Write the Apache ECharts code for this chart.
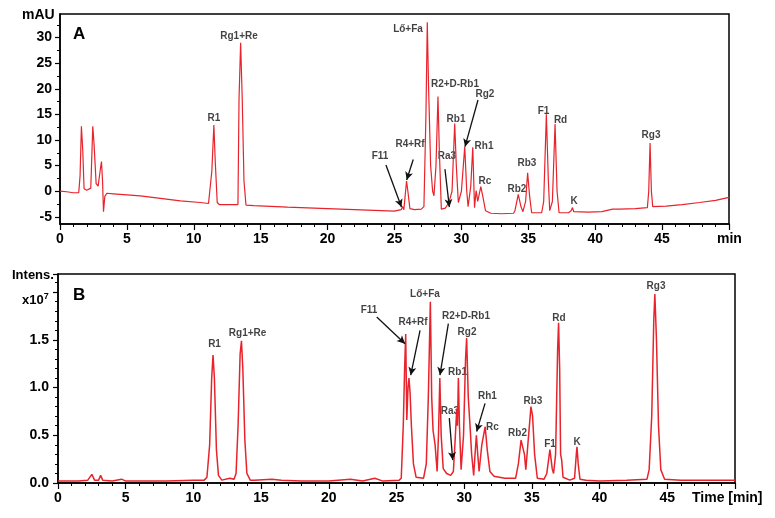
<!DOCTYPE html>
<html>
<head>
<meta charset="utf-8">
<script src="https://cdn.jsdelivr.net/npm/echarts@6/dist/echarts.min.js"></script>
<style>
  html, body { margin: 0; padding: 0; background: #fff; }
  #chart { width: 775px; height: 518px; }
</style>
</head>
<body>
<div id="chart"></div>
<script>
// UV trace (panel A): [time min, mAU]
const uvTrace = [
  [0, 0], [0.5, -0.1], [1.0, -0.3], [1.4, -0.3], [1.5, 3], [1.6, 12.7], [1.7, 8], [1.8, 0.5], [2.0, 0.2],
  [2.3, 0.6], [2.45, 12.7], [2.55, 9], [2.7, 1.5], [2.85, 1.0], [3.0, 4], [3.1, 5.8], [3.18, 2], [3.25, -4.0],
  [3.35, -1.0], [3.5, -0.4], [4.0, -0.5], [6.0, -0.9], [7.5, -1.4], [9.0, -1.9], [10.5, -2.2], [11.1, -2.4],
  [11.2, -2.4], [11.35, 4], [11.5, 12.9], [11.6, 6], [11.75, -2.2], [11.9, -2.6],
  [13.3, -2.6], [13.38, 18], [13.5, 29], [13.62, 18], [13.75, 2], [13.9, -2.7],
  [14.5, -2.8], [17, -3.1], [20, -3.4], [23, -3.7], [25, -3.9],
  [25.5, -3.6], [25.6, -3.0], [25.7, -3.6], [25.8, -3.5], [25.9, 2.0], [26.0, 0], [26.15, -3.4], [26.5, -3.6], [27.0, -3.5],
  [27.2, -3], [27.35, 15], [27.45, 33], [27.55, 20], [27.7, 5], [27.85, 0], [27.95, -0.9],
  [28.1, 5], [28.25, 18.5], [28.35, 8], [28.5, -3.5],
  [28.8, -3.3], [29.0, -2.5], [29.1, -1.9],
  [29.3, 0], [29.5, 13.2], [29.62, 5], [29.77, -2.2],
  [30.0, 0], [30.25, 8.7], [30.4, 0], [30.5, -3],
  [30.7, 1], [30.85, 8.6], [30.98, -3.2], [31.1, 0.1], [31.22, -2.0], [31.45, 0.9], [31.6, -1.0], [31.8, -3.8], [32.2, -4.3],
  [33.0, -4.4], [33.9, -4.3],
  [34.0, -3.8], [34.25, -0.6], [34.45, -3.0], [34.6, -4.0],
  [34.8, -2], [34.95, 3.6], [35.1, -1], [35.25, -4.2], [36.0, -4.2],
  [36.15, -2], [36.35, 15.0], [36.5, 2], [36.6, -3.8],
  [36.8, -2], [37.0, 13.1], [37.15, 0], [37.3, -4.2], [38.0, -4.2],
  [38.2, -3.8], [38.3, -3.2], [38.4, -4.0],
  [39.5, -4.1], [40.5, -4.0], [41.3, -3.5], [41.8, -3.5], [43.0, -3.4], [43.9, -3.2],
  [44.0, 0], [44.1, 9.4], [44.2, 0], [44.3, -3.0],
  [45.3, -2.9], [46.5, -2.6], [47.8, -2.2], [49.0, -1.8], [50.0, -1.2]
];

// MS trace (panel B): [time min, intensity x1e7]
const msTrace = [
  [0, 0.02], [1.5, 0.02], [2.2, 0.03], [2.5, 0.09], [2.7, 0.03], [3.0, 0.03], [3.15, 0.08], [3.3, 0.03],
  [4.0, 0.02], [4.7, 0.04], [5.0, 0.02], [8.0, 0.02], [10.0, 0.03], [10.8, 0.03],
  [11.0, 0.06], [11.2, 0.4], [11.35, 1.1], [11.45, 1.34], [11.55, 1.1], [11.7, 0.35], [11.85, 0.08], [12.1, 0.03],
  [12.7, 0.05], [13.0, 0.04],
  [13.15, 0.1], [13.3, 0.6], [13.45, 1.35], [13.55, 1.49], [13.65, 1.2], [13.8, 0.45], [13.95, 0.1], [14.2, 0.03],
  [14.5, 0.03], [15.8, 0.04], [16.5, 0.03], [18, 0.02], [20, 0.02], [21.6, 0.04], [22.5, 0.02], [23.4, 0.05], [24, 0.02], [25.2, 0.03],
  [25.35, 0.05], [25.5, 0.6], [25.6, 1.2], [25.68, 1.56], [25.76, 0.66], [25.85, 1.0], [25.92, 1.1], [26.0, 0.95],
  [26.1, 0.6], [26.25, 0.2], [26.45, 0.06], [27.0, 0.05],
  [27.2, 0.2], [27.35, 0.9], [27.5, 1.90], [27.6, 0.9], [27.7, 0.55], [27.85, 0.4], [28.0, 0.12],
  [28.1, 0.5], [28.2, 1.10], [28.3, 0.5], [28.45, 0.15],
  [28.7, 0.1], [29.0, 0.08], [29.2, 0.12],
  [29.35, 0.5], [29.45, 0.78], [29.5, 0.6], [29.57, 1.10], [29.65, 0.6], [29.77, 0.14],
  [29.95, 0.5], [30.1, 1.3], [30.18, 1.52], [30.3, 0.9], [30.45, 0.55], [30.55, 0.3], [30.7, 0.08],
  [30.8, 0.3], [30.9, 0.5], [31.0, 0.3], [31.1, 0.12],
  [31.3, 0.4], [31.55, 0.59], [31.7, 0.35], [31.9, 0.12], [32.2, 0.07], [33.0, 0.05],
  [33.8, 0.05], [34.0, 0.2], [34.2, 0.45], [34.3, 0.47], [34.45, 0.3], [34.55, 0.14],
  [34.7, 0.4], [34.93, 0.80], [35.05, 0.7], [35.2, 0.3], [35.4, 0.05], [35.9, 0.04],
  [36.1, 0.1], [36.33, 0.35], [36.5, 0.15], [36.6, 0.1],
  [36.75, 0.3], [36.9, 1.4], [36.97, 1.68], [37.05, 1.2], [37.12, 0.3], [37.2, 0.24], [37.3, 0.06], [37.8, 0.03],
  [38.15, 0.05], [38.28, 0.3], [38.33, 0.38], [38.42, 0.2], [38.55, 0.04],
  [39, 0.03], [40, 0.02], [42, 0.03], [43.5, 0.04],
  [43.66, 0.14], [43.85, 0.7], [44.0, 1.7], [44.08, 1.98], [44.2, 1.5], [44.35, 0.6], [44.52, 0.14], [44.8, 0.04],
  [46, 0.03], [48, 0.03], [50, 0.03]
];

// peak labels: [text, time, value]
const uvPeakLabels = [
  ['R1', 11.51, 14.3], ['Rg1+Re', 13.38, 30.2], ['Lő+Fa', 26.01, 31.6], ['R2+D-Rb1', 29.52, 20.9],
  ['Rg2', 31.76, 19.0], ['Rb1', 29.6, 14.1], ['R4+Rf', 26.16, 9.2], ['F11', 23.92, 6.9], ['Ra3', 28.92, 6.9],
  ['Rh1', 31.69, 8.8], ['Rc', 31.76, 2.0], ['Rb2', 34.15, 0.4], ['Rb3', 34.9, 5.5], ['F1', 36.14, 15.7],
  ['Rd', 37.41, 13.9], ['K', 38.42, -1.9], ['Rg3', 44.17, 11.0]
];
const msPeakLabels = [
  ['R1', 11.56, 1.457], ['Rg1+Re', 14.0, 1.567], ['F11', 22.97, 1.81], ['R4+Rf', 26.22, 1.68],
  ['Lő+Fa', 27.1, 1.98], ['R2+D-Rb1', 30.13, 1.75], ['Rg2', 30.21, 1.58], ['Rb1', 29.51, 1.16],
  ['Ra3', 28.95, 0.755], ['Rh1', 31.72, 0.91], ['Rc', 32.09, 0.58], ['Rb2', 33.94, 0.52],
  ['Rb3', 35.08, 0.86], ['F1', 36.34, 0.41], ['Rd', 37.0, 1.73], ['K', 38.33, 0.43], ['Rg3', 44.17, 2.06]
];

// arrows: [fromTime, fromValue, toTime, toValue]
const uvArrows = [
  [24.36, 5.1, 25.52, -3.1], [26.4, 6.2, 25.91, 2.2], [28.77, 4.3, 29.1, -3.1], [31.24, 17.8, 30.27, 8.7]
];
const msArrows = [
  [23.54, 1.74, 25.63, 1.46], [26.74, 1.6, 26.05, 1.13], [28.83, 1.67, 28.21, 1.13],
  [28.9, 0.68, 29.15, 0.24], [31.54, 0.835, 30.92, 0.54]
];

const uvMajorTicks = [-5, 0, 5, 10, 15, 20, 25, 30];
const uvMinorTicks = [-2.5, 2.5, 7.5, 12.5, 17.5, 22.5, 27.5, 32.5];

const FONT = '"Liberation Sans", Arial, sans-serif';
const RED = '#e8232b';

function timeAxis(gridIndex) {
  return {
    type: 'value', gridIndex, min: 0, max: 50, interval: 5, position: 'bottom',
    axisLine: { onZero: false, lineStyle: { color: '#000', width: 1.5 } },
    axisTick: { length: 6, lineStyle: { color: '#000', width: 1.2 } },
    minorTick: { show: true, splitNumber: 5, length: 3, lineStyle: { color: '#000', width: 1 } },
    axisLabel: {
      color: '#000', fontFamily: FONT, fontWeight: 'bold', fontSize: 14, margin: 8,
      formatter: (v) => (v >= 50 ? '' : String(v))
    },
    splitLine: { show: false }
  };
}

function labelSeries(labels, arrows, idx) {
  return {
    type: 'scatter', xAxisIndex: idx, yAxisIndex: idx === 0 ? 0 : 2,
    symbolSize: 1, itemStyle: { color: 'rgba(0,0,0,0)' }, silent: true,
    data: labels.map(([name, t, v]) => ({ name, value: [t, v] })),
    label: {
      show: true, position: 'inside', formatter: '{b}',
      color: '#111', fontFamily: FONT, fontWeight: 'bold', fontSize: 10
    },
    markLine: {
      silent: true, symbol: ['none', 'arrow'], symbolSize: [6, 8],
      lineStyle: { color: '#111', width: 1.3, type: 'solid' },
      label: { show: false },
      data: arrows.map(([t1, v1, t2, v2]) => [{ coord: [t1, v1] }, { coord: [t2, v2] }])
    }
  };
}

const chart = echarts.init(document.getElementById('chart'));
chart.setOption({
  animation: false,
  backgroundColor: '#fff',
  grid: [
    { left: 60, top: 14, right: 46, height: 210, show: true, borderColor: '#000', borderWidth: 1.5 },
    { left: 58, top: 274, right: 40, height: 209, show: true, borderColor: '#000', borderWidth: 1.5 }
  ],
  xAxis: [timeAxis(0), timeAxis(1)],
  yAxis: [
    {
      type: 'value', gridIndex: 0, min: -6.4, max: 34.6, position: 'left',
      axisLine: { show: true, onZero: false, lineStyle: { color: '#000', width: 1.5 } },
      axisTick: { show: true, length: 5, customValues: uvMajorTicks, lineStyle: { color: '#000', width: 1.2 } },
      axisLabel: {
        customValues: uvMajorTicks, color: '#000', fontFamily: FONT, fontWeight: 'bold', fontSize: 14, margin: 8
      },
      splitLine: { show: false }
    },
    {
      type: 'value', gridIndex: 0, min: -6.4, max: 34.6, position: 'left', offset: 0,
      axisLine: { show: false, onZero: false },
      axisTick: { show: true, length: 3, customValues: uvMinorTicks, lineStyle: { color: '#000', width: 1 } },
      axisLabel: { show: false },
      splitLine: { show: false }
    },
    {
      type: 'value', gridIndex: 1, min: 0, max: 2.19, interval: 0.5, position: 'left',
      axisLine: { show: true, onZero: false, lineStyle: { color: '#000', width: 1.5 } },
      axisTick: { show: true, length: 5, lineStyle: { color: '#000', width: 1.2 } },
      minorTick: { show: true, splitNumber: 5, length: 3, lineStyle: { color: '#000', width: 1 } },
      axisLabel: {
        color: '#000', fontFamily: FONT, fontWeight: 'bold', fontSize: 14, margin: 9,
        formatter: (v) => (v <= 1.5 ? v.toFixed(1) : '')
      },
      splitLine: { show: false }
    }
  ],
  graphic: [
    { type: 'text', left: 22, top: 8, style: { text: 'mAU', font: 'bold 14px ' + FONT, fill: '#000' } },
    { type: 'text', left: 73, top: 26, style: { text: 'A', font: 'bold 17px ' + FONT, fill: '#000' } },
    { type: 'text', left: 717, top: 232, style: { text: 'min', font: 'bold 14px ' + FONT, fill: '#000' } },
    { type: 'text', left: 12, top: 269, style: { text: 'Intens.', font: 'bold 13px ' + FONT, fill: '#000' } },
    {
      type: 'text', left: 22, top: 292,
      style: {
        text: '{a|x10}{s|7}',
        rich: {
          a: { font: 'bold 13px ' + FONT, fill: '#000', verticalAlign: 'bottom' },
          s: { font: 'bold 9px ' + FONT, fill: '#000', verticalAlign: 'top', padding: [0, 0, 6, 0] }
        }
      }
    },
    { type: 'text', left: 73, top: 287, style: { text: 'B', font: 'bold 17px ' + FONT, fill: '#000' } },
    { type: 'text', left: 692, top: 491, style: { text: 'Time [min]', font: 'bold 14px ' + FONT, fill: '#000' } }
  ],
  series: [
    {
      type: 'line', xAxisIndex: 0, yAxisIndex: 0, data: uvTrace, symbol: 'none',
      lineStyle: { color: RED, width: 1.2 }, silent: true
    },
    {
      type: 'line', xAxisIndex: 1, yAxisIndex: 2, data: msTrace, symbol: 'none',
      lineStyle: { color: RED, width: 1.5 }, silent: true
    },
    labelSeries(uvPeakLabels, uvArrows, 0),
    labelSeries(msPeakLabels, msArrows, 1)
  ]
});
</script>
</body>
</html>
